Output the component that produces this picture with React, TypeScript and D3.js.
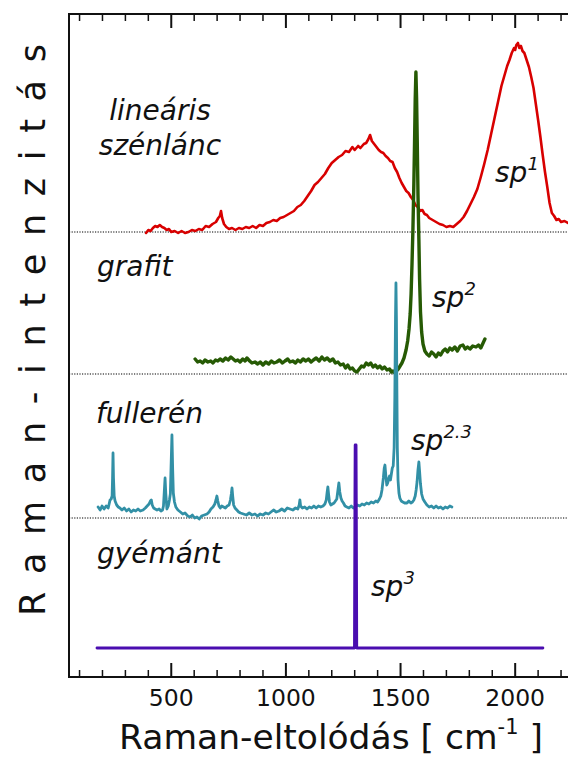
import React from "react";
import * as d3 from "d3";

type Pt = [number, number];

// Wavenumber (cm^-1) vs. intensity above each spectrum's own baseline (a.u.)
const linearChain: Pt[] = [
  [390,-1],[400,2],[410,1],[420,4],[430,6],[440,5],[450,7],[460,5],[470,4],[480,2],[490,3],[500,0],[515,1],[530,-1],[545,1],[560,-1],[575,0],[590,2],[605,1],[620,3],[635,2],[650,6],[665,5],[680,8],[695,10],[705,14],[712,16],[717,21],[722,14],[730,8],[740,5],[752,3],[765,4],[780,2],[795,4],[810,3],[825,5],[840,4],[855,6],[870,4],[885,7],[900,6],[915,9],[930,10],[945,12],[960,11],[975,14],[990,15],[1005,17],[1020,19],[1035,21],[1050,25],[1065,27],[1080,31],[1095,36],[1110,41],[1125,47],[1140,50],[1155,54],[1170,58],[1185,64],[1200,69],[1215,72],[1230,75],[1245,77],[1260,81],[1275,80],[1290,85],[1300,82],[1315,86],[1325,84],[1340,88],[1350,89],[1360,93],[1367,97],[1375,91],[1385,88],[1395,85],[1405,82],[1415,80],[1425,79],[1435,76],[1445,74],[1455,71],[1465,70],[1475,64],[1485,60],[1495,54],[1505,49],[1515,45],[1525,41],[1535,39],[1545,35],[1555,32],[1565,27],[1575,25],[1585,21],[1595,22],[1605,18],[1615,17],[1625,14],[1640,12],[1655,10],[1670,8],[1685,7],[1700,5],[1715,6],[1730,5],[1745,8],[1760,11],[1775,15],[1790,21],[1805,28],[1820,35],[1835,43],[1850,55],[1865,68],[1880,82],[1895,98],[1910,114],[1925,130],[1940,146],[1955,158],[1965,166],[1975,172],[1985,179],[1995,184],[2000,182],[2005,187],[2012,189],[2018,184],[2025,186],[2032,181],[2040,179],[2050,172],[2060,165],[2070,155],[2080,144],[2090,128],[2100,112],[2110,95],[2120,77],[2130,60],[2140,45],[2150,29],[2160,19],[2170,16],[2180,12],[2190,13],[2200,10],[2215,11],[2230,9],[2245,10]
];

const graphite: Pt[] = [
  [604,15],[615,12],[626,13],[637,11],[647,14],[660,12],[672,13],[682,11],[693,14],[703,13],[713,15],[725,13],[737,16],[748,14],[760,17],[770,15],[780,13],[790,14],[800,12],[812,15],[822,13],[830,16],[842,13],[852,11],[865,12],[877,10],[888,12],[900,9],[912,12],[925,10],[937,13],[948,11],[960,12],[972,14],[985,11],[996,13],[1008,15],[1018,12],[1030,13],[1042,11],[1052,14],[1063,12],[1075,15],[1087,13],[1098,15],[1110,12],[1120,14],[1132,16],[1145,13],[1157,17],[1168,14],[1180,16],[1192,13],[1205,15],[1216,11],[1227,12],[1238,9],[1250,10],[1260,6],[1270,9],[1280,5],[1290,6],[1300,3],[1310,2],[1320,5],[1330,8],[1340,7],[1350,11],[1360,9],[1370,11],[1380,7],[1390,9],[1400,6],[1410,8],[1420,5],[1430,7],[1441,4],[1452,5],[1460,2],[1467,3],[1475,1],[1482,3],[1490,5],[1498,8],[1506,11],[1515,16],[1524,24],[1531,33],[1537,45],[1542,60],[1546,80],[1550,110],[1554,145],[1558,190],[1561,230],[1564,275],[1567,302],[1570,275],[1573,230],[1576,180],[1580,134],[1583,95],[1587,62],[1592,42],[1598,30],[1606,23],[1615,20],[1625,18],[1635,22],[1645,20],[1655,17],[1665,21],[1675,19],[1685,23],[1695,25],[1705,22],[1715,26],[1725,24],[1737,27],[1748,23],[1760,28],[1772,29],[1782,25],[1792,27],[1803,25],[1815,28],[1829,27],[1840,29],[1850,26],[1860,31],[1868,35]
];

const fullerene: Pt[] = [
  [181,11],[190,8],[198,12],[207,9],[216,12],[225,10],[233,18],[238,19],[242,22],[244,40],[246,65],[248,40],[251,22],[255,17],[262,13],[269,11],[276,10],[285,8],[295,10],[305,7],[315,9],[325,6],[335,8],[345,7],[355,9],[365,7],[377,8],[387,10],[395,12],[403,14],[409,17],[413,18],[417,13],[423,10],[430,9],[438,8],[447,9],[455,7],[462,8],[466,12],[470,28],[473,40],[476,25],[481,9],[487,12],[492,18],[496,24],[499,50],[503,83],[506,50],[509,25],[514,16],[520,11],[529,8],[540,6],[550,4],[560,5],[572,2],[582,1],[592,3],[602,0],[612,1],[622,-1],[632,2],[644,3],[656,4],[665,6],[673,9],[682,11],[690,14],[695,18],[699,22],[703,17],[708,12],[714,10],[720,12],[728,11],[736,10],[744,12],[752,13],[758,18],[762,24],[765,30],[768,22],[772,13],[778,10],[786,8],[794,6],[802,5],[815,4],[828,3],[840,5],[852,3],[865,4],[876,2],[888,4],[900,3],[912,5],[924,4],[935,6],[946,8],[958,6],[970,7],[982,9],[994,7],[1006,10],[1018,9],[1030,8],[1042,10],[1052,9],[1058,13],[1061,18],[1064,12],[1072,10],[1082,11],[1092,9],[1102,11],[1112,10],[1122,12],[1132,10],[1142,12],[1152,11],[1162,12],[1170,14],[1176,18],[1180,26],[1183,31],[1186,24],[1190,16],[1196,13],[1203,14],[1210,15],[1216,17],[1222,19],[1227,28],[1231,35],[1235,26],[1240,20],[1245,17],[1251,15],[1258,12],[1266,11],[1275,10],[1285,12],[1294,10],[1303,11],[1312,13],[1322,12],[1332,14],[1342,13],[1352,15],[1362,14],[1372,16],[1382,15],[1392,17],[1400,16],[1408,19],[1414,22],[1419,28],[1425,40],[1429,50],[1432,53],[1436,42],[1440,33],[1444,35],[1448,39],[1452,42],[1456,38],[1460,44],[1464,50],[1468,52],[1472,70],[1475,120],[1478,200],[1480,235],[1482,200],[1484,130],[1486,70],[1489,38],[1493,25],[1497,20],[1503,17],[1510,16],[1518,15],[1528,15],[1536,17],[1545,15],[1552,16],[1558,18],[1564,22],[1568,28],[1572,36],[1576,48],[1580,56],[1583,47],[1587,34],[1592,24],[1598,19],[1606,16],[1615,13],[1625,11],[1635,12],[1645,10],[1655,12],[1665,10],[1675,11],[1685,9],[1695,11],[1705,10],[1715,12],[1724,11]
];

const diamond: Pt[] = [
  [176,0],[1299,0],[1301,150],[1302,203],[1306,203],[1307,150],[1309,0],[2121,0]
];

const seriesNames = ["lineáris szénlánc", "grafit", "fullerén", "gyémánt"];
const seriesOffsets = [445, 303, 159, 29];
const seriesColors = ["#d80000", "#265a04", "#3290a6", "#4a0db0"];
const seriesWidths = [2.6, 3.4, 2.8, 2.8];
const showBaseline = [true, true, true, false];

const majorTicks = [500, 1000, 1500, 2000];
const minorTicks = [100, 200, 300, 400, 600, 700, 800, 900, 1100, 1200, 1300, 1400, 1600, 1700, 1800, 1900, 2100, 2200];

const W = 568;
const H = 758;
const left = 69;
const top = 14;
const bottom = 677;

export default function App() {
  const x = d3.scaleLinear().domain([54, 2260]).range([left, 574.8]);
  const y = d3.scaleLinear().domain([0, 663]).range([bottom, top]);
  const data = [linearChain, graphite, fullerene, diamond];

  const font = "'DejaVu Sans', sans-serif";

  return (
    <svg
      width={W}
      height={H}
      style={{ position: "absolute", left: 0, top: 0, background: "#fff" }}
      fontFamily={font}
    >
      {/* dotted baselines */}
      {seriesOffsets.map((o, i) =>
        showBaseline[i] ? (
          <line
            key={"b" + i}
            x1={left}
            x2={W}
            y1={y(o)}
            y2={y(o)}
            stroke="#000"
            strokeWidth={1.2}
            strokeDasharray="1.2,1.4"
          />
        ) : null
      )}

      {/* spectra */}
      {data.map((d, i) => {
        const line = d3
          .line<Pt>()
          .x((p) => x(p[0]))
          .y((p) => y(p[1] + seriesOffsets[i]));
        return (
          <path
            key={"s" + i}
            d={line(d) || ""}
            fill="none"
            stroke={seriesColors[i]}
            strokeWidth={seriesWidths[i]}
            strokeLinejoin="round"
            strokeLinecap="round"
          />
        );
      })}

      {/* frame */}
      <rect
        x={left}
        y={top}
        width={x(2260) - left}
        height={bottom - top}
        fill="none"
        stroke="#111"
        strokeWidth={2}
      />

      {/* ticks */}
      {minorTicks.map((t) => (
        <g key={"m" + t}>
          <line x1={x(t)} x2={x(t)} y1={top} y2={top + 7} stroke="#111" strokeWidth={1.5} />
          <line x1={x(t)} x2={x(t)} y1={bottom} y2={bottom - 7} stroke="#111" strokeWidth={1.5} />
        </g>
      ))}
      {majorTicks.map((t) => (
        <g key={"M" + t}>
          <line x1={x(t)} x2={x(t)} y1={top} y2={top + 14} stroke="#111" strokeWidth={2} />
          <line x1={x(t)} x2={x(t)} y1={bottom} y2={bottom - 14} stroke="#111" strokeWidth={2} />
          <text x={x(t)} y={706} textAnchor="middle" fontSize={23.5} fill="#111">
            {t}
          </text>
        </g>
      ))}

      {/* axis titles */}
      <text x={331} y={749} textAnchor="middle" fontSize={34.5} fill="#111">
        Raman-eltolódás [ cm
        <tspan fontSize={21} dy={-15}>-1</tspan>
        <tspan dy={15}> ]</tspan>
      </text>
      <text
        transform="translate(45,616) rotate(-90)"
        fontSize={35}
        fill="#111"
        textLength={572}
        lengthAdjust="spacing"
      >
        R a m a n - i n t e n z i t á s
      </text>

      {/* sample labels */}
      <g fontStyle="italic" fontSize={28} fill="#111">
        <text x={160} y={120} textAnchor="middle">lineáris</text>
        <text x={160} y={155} textAnchor="middle">szénlánc</text>
        <text x={97} y={276}>grafit</text>
        <text x={96} y={423}>fullerén</text>
        <text x={97} y={563}>gyémánt</text>

        <text x={495} y={182}>sp<tspan fontSize={18} dy={-12}>1</tspan></text>
        <text x={432} y={307}>sp<tspan fontSize={18} dy={-12}>2</tspan></text>
        <text x={411} y={450}>sp<tspan fontSize={18} dy={-12}>2.3</tspan></text>
        <text x={371} y={596}>sp<tspan fontSize={18} dy={-12}>3</tspan></text>
      </g>
    </svg>
  );
}
